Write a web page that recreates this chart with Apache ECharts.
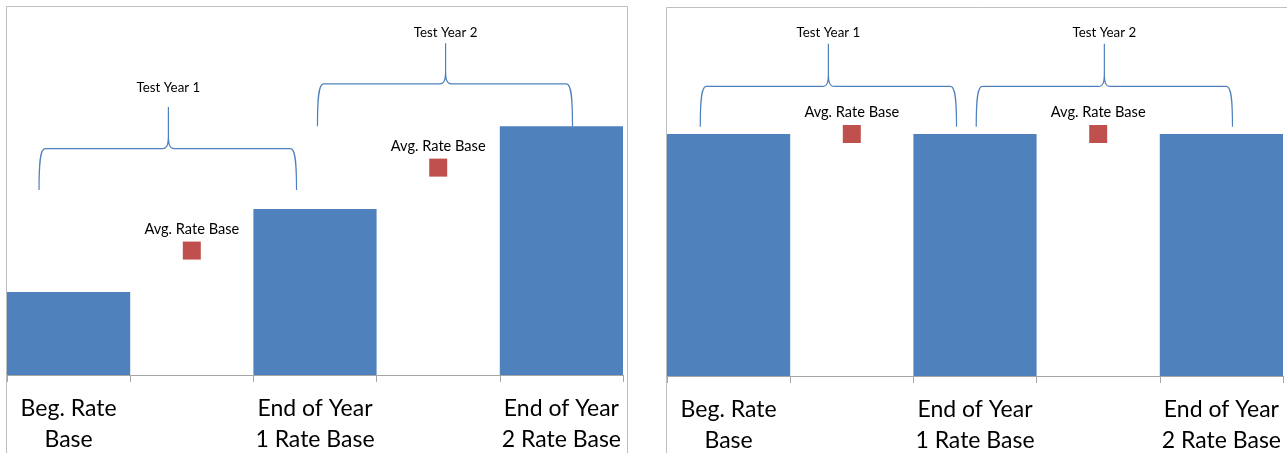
<!DOCTYPE html>
<html>
<head>
<meta charset="utf-8">
<script src="https://cdn.jsdelivr.net/npm/echarts@6/dist/echarts.min.js"></script>
<style>
  html, body { margin: 0; padding: 0; background: #fff; }
  #chart { width: 1287px; height: 453px; }
</style>
</head>
<body>
<div id="chart"></div>
<script>
// categories (labels only under the bars)
var categories = ['Beg. Rate\nBase', '', 'End of Year\n1 Rate Base', '', 'End of Year\n2 Rate Base'];

// left panel: growing rate base
var leftBars = [1, '-', 2, '-', 3];
var leftAvg  = ['-', 1.5, '-', 2.5, '-'];

// right panel: flat rate base
var rightBars = [3, '-', 3, '-', 3];
var rightAvg  = ['-', 3, '-', 3, '-'];

// braces: [xStart, xTip, xEnd, yEnds, yFlat, yTip, yLabel] (x in category units 0..5)
var braceNames  = ['Test Year 1', 'Test Year 2'];
var leftBraces  = [[0.26, 1.31, 2.35, 2.23, 2.73, 3.23, 3.46],
                   [2.52, 3.56, 4.59, 3.00, 3.51, 4.00, 4.13]];
var rightBraces = [[0.27, 1.31, 2.35, 3.09, 3.59, 4.12, 4.26],
                   [2.51, 3.55, 4.59, 3.09, 3.59, 4.12, 4.26]];

var BLUE = '#4f81bd', RED = '#c0504d', FONT = 'Lato, "Open Sans", sans-serif';

function renderBrace(params, api) {
    var a = api.coord([api.value(0), api.value(3)]);
    var t = api.coord([api.value(1), api.value(5)]);
    var b = api.coord([api.value(2), api.value(4)]);
    var lab = api.coord([api.value(1), api.value(6)]);
    var x0 = a[0], y0 = a[1], xt = t[0], yt = t[1], xr = b[0], yf = b[1];
    var r = 6, mid = yf + (y0 - yf) * 0.35;
    var d = 'M' + x0 + ' ' + y0 +
        ' C' + x0 + ' ' + mid + ' ' + (x0 + 1) + ' ' + yf + ' ' + (x0 + r) + ' ' + yf +
        ' L' + (xt - 6) + ' ' + yf +
        ' C' + (xt - 1) + ' ' + yf + ' ' + xt + ' ' + (yf - 4) + ' ' + xt + ' ' + (yf - 14) +
        ' L' + xt + ' ' + yt +
        ' M' + xt + ' ' + (yf - 14) +
        ' C' + xt + ' ' + (yf - 4) + ' ' + (xt + 1) + ' ' + yf + ' ' + (xt + 6) + ' ' + yf +
        ' L' + (xr - r) + ' ' + yf +
        ' C' + (xr - 1) + ' ' + yf + ' ' + xr + ' ' + mid + ' ' + xr + ' ' + y0;
    return {
        type: 'group',
        children: [
            { type: 'path', shape: { pathData: d },
              style: { fill: 'none', stroke: BLUE, lineWidth: 1.2 } },
            { type: 'text', x: lab[0], y: lab[1],
              style: { text: braceNames[params.dataIndex], fill: '#000', font: '13.3px ' + FONT,
                       align: 'center', verticalAlign: 'middle' } }
        ]
    };
}

function catAxis(grid) {
    return {
        type: 'category', gridIndex: grid, data: categories, boundaryGap: true,
        axisLine: { lineStyle: { color: '#a6a6a6', width: 1 } },
        axisTick: { show: true, length: 7, lineStyle: { color: '#a6a6a6' } },
        axisLabel: { interval: 0, margin: 18, color: '#000', fontSize: 23, lineHeight: 31,
                     fontFamily: FONT }
    };
}

function avgSeries(xi, yi, data) {
    return { type: 'scatter', xAxisIndex: xi, yAxisIndex: yi, data: data,
             symbol: 'rect', symbolSize: 18, itemStyle: { color: RED, opacity: 1 },
             label: { show: true, position: 'top', distance: 5, formatter: 'Avg. Rate Base',
                      color: '#000', fontSize: 14.6, fontFamily: FONT } };
}

var chart = echarts.init(document.getElementById('chart'));
chart.setOption({
    backgroundColor: '#fff',
    animation: false,
    graphic: [
        { type: 'rect', silent: true, z: -1,
          shape: { x: 6.5, y: 6.5, width: 621, height: 480 },
          style: { fill: 'none', stroke: '#bfbfbf', lineWidth: 1 } },
        { type: 'rect', silent: true, z: -1,
          shape: { x: 666.5, y: 7.5, width: 700, height: 480 },
          style: { fill: 'none', stroke: '#bfbfbf', lineWidth: 1 } }
    ],
    grid: [
        { left: 7, width: 616, top: 10, bottom: 78, containLabel: false, outerBoundsMode: 'none' },
        { left: 667, width: 616, top: 13, bottom: 77, containLabel: false, outerBoundsMode: 'none' }
    ],
    xAxis: [
        catAxis(0),
        { type: 'value', gridIndex: 0, min: 0, max: 5, show: false },
        catAxis(1),
        { type: 'value', gridIndex: 1, min: 0, max: 5, show: false }
    ],
    yAxis: [
        { type: 'value', gridIndex: 0, min: 0, max: 4.4, show: false },
        { type: 'value', gridIndex: 1, min: 0, max: 4.5, show: false }
    ],
    series: [
        { type: 'bar', xAxisIndex: 0, yAxisIndex: 0, data: leftBars,
          barWidth: '100%', itemStyle: { color: BLUE } },
        avgSeries(0, 0, leftAvg),
        { type: 'custom', xAxisIndex: 1, yAxisIndex: 0, data: leftBraces,
          encode: { x: [0, 1, 2], y: [3, 4, 5, 6] }, renderItem: renderBrace },

        { type: 'bar', xAxisIndex: 2, yAxisIndex: 1, data: rightBars,
          barWidth: '100%', itemStyle: { color: BLUE } },
        avgSeries(2, 1, rightAvg),
        { type: 'custom', xAxisIndex: 3, yAxisIndex: 1, data: rightBraces,
          encode: { x: [0, 1, 2], y: [3, 4, 5, 6] }, renderItem: renderBrace }
    ]
});
</script>
</body>
</html>
